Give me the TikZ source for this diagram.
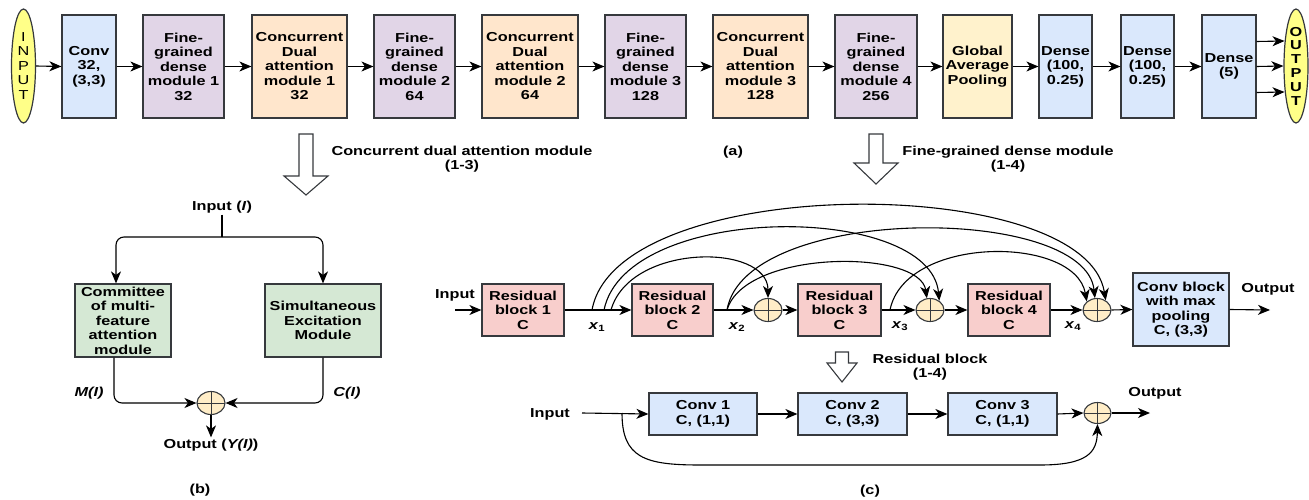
\documentclass[tikz,border=0pt]{standalone}
\usepackage{fontspec}
\setmainfont{Liberation Sans}[FakeStretch=1.25]
\usetikzlibrary{arrows.meta,shapes.geometric,calc}

\definecolor{edge}{HTML}{36393D}
\definecolor{bluef}{HTML}{DAE8FC}
\definecolor{purplef}{HTML}{E1D5E7}
\definecolor{orangef}{HTML}{FFE6CC}
\definecolor{yellowf}{HTML}{FFF2CC}
\definecolor{greenf}{HTML}{D5E8D4}
\definecolor{redf}{HTML}{F8CECC}
\definecolor{termf}{HTML}{FFFF88}
\definecolor{sumf}{HTML}{FFEDC7}

\newcommand{\xsub}[1]{\textit{x}\textsubscript{#1}}

\begin{document}
\begin{tikzpicture}[x=1pt,y=-1pt,
  font=\fontsize{13}{14.5}\selectfont\bfseries,
  line width=1.1pt,
  arr/.style={-{Stealth[length=12pt,width=10pt,inset=3.5pt]}, line width=1.1pt},
  blk/.style={draw=edge, line width=1.2pt, inner sep=1pt, align=center},
  toprow/.style={blk, minimum height=103},
  term/.style={ellipse, draw=edge, line width=1.2pt, fill=termf, inner sep=0pt,
               minimum width=24, minimum height=114, align=center},
  sumnode/.style={ellipse, draw=edge, line width=1.1pt, fill=sumf, inner sep=0pt,
               minimum width=28, minimum height=23,
               path picture={\draw[line width=1pt]
                 (path picture bounding box.north) -- (path picture bounding box.south)
                 (path picture bounding box.west) -- (path picture bounding box.east);}},
  lbl/.style={inner sep=1pt, align=center},
  hollow/.style={draw=edge, line width=1.1pt, fill=white, line join=miter}
]
\useasboundingbox (0,0) rectangle (1309,500);

% ---------------- (a) main pipeline ----------------
\node[term, font=\fontsize{13}{14.5}\selectfont\mdseries] (in) at (23.5,66) {I\\N\\P\\U\\T};
\node[toprow, fill=bluef,   minimum width=54] (conv) at (89,66.5)    {Conv\\32,\\(3,3)};
\node[toprow, fill=purplef, minimum width=81] (f1)   at (183.5,66.5) {Fine-\\grained\\dense\\module 1\\32};
\node[toprow, fill=orangef, minimum width=95] (c1)   at (299.5,66.5) {Concurrent\\Dual\\attention\\module 1\\32};
\node[toprow, fill=purplef, minimum width=81] (f2)   at (414.5,66.5) {Fine-\\grained\\dense\\module 2\\64};
\node[toprow, fill=orangef, minimum width=96] (c2)   at (530,66.5)   {Concurrent\\Dual\\attention\\module 2\\64};
\node[toprow, fill=purplef, minimum width=81] (f3)   at (645.5,66.5) {Fine-\\grained\\dense\\module 3\\128};
\node[toprow, fill=orangef, minimum width=95] (c3)   at (760.5,66.5) {Concurrent\\Dual\\attention\\module 3\\128};
\node[toprow, fill=purplef, minimum width=82] (f4)   at (876,66.5)   {Fine-\\grained\\dense\\module 4\\256};
\node[toprow, fill=yellowf, minimum width=69] (gap)  at (977.5,66.5) {Global\\Average\\Pooling};
\node[toprow, fill=bluef,   minimum width=53] (d1)   at (1065.5,66.5){Dense\\(100,\\0.25)};
\node[toprow, fill=bluef,   minimum width=53] (d2)   at (1147.5,66.5){Dense\\(100,\\0.25)};
\node[toprow, fill=bluef,   minimum width=54] (d3)   at (1229,66.5)  {Dense\\(5)};
\node[term, font=\fontsize{13}{13.8}\selectfont\bfseries] (out) at (1296,66) {O\\U\\T\\P\\U\\T};

\foreach \a/\b in {in/conv, conv/f1, f1/c1, c1/f2, f2/c2, c2/f3, f3/c3, c3/f4, f4/gap, gap/d1, d1/d2, d2/d3}
  \draw[arr] (\a.east) -- (\b.west);
\draw[arr] ($(d3.east)+(0,-25)$) -- ($(out.center)+(-11.5,-25)$);
\draw[arr] (d3.east) -- (out.west);
\draw[arr] ($(d3.east)+(0,26)$) -- ($(out.center)+(-11.5,26)$);

% section captions and expansion arrows
\draw[hollow] (299,134) -- (313,134) -- (313,176) -- (328,176) -- (306,195) -- (284,176) -- (299,176) -- cycle;
\node[lbl] (capcda) at (462,159) {Concurrent dual attention module\\(1-3)};
\node[lbl] (capa) at (733,152) {(a)};
\draw[hollow] (869,134) -- (883,134) -- (883,163) -- (898,163) -- (876,184) -- (854,163) -- (869,163) -- cycle;
\node[lbl] (capfg) at (1008,159) {Fine-grained dense module\\(1-4)};

% ---------------- (b) concurrent dual attention module ----------------
\node[lbl] (inb) at (222,207) {Input (\textit{I})};
\coordinate (splitb) at (222,237);
\node[blk, fill=greenf, minimum width=96, minimum height=73] (cm) at (123,320.5)
  {Committee\\of multi-\\feature\\attention\\module};
\node[blk, fill=greenf, minimum width=116, minimum height=73] (se) at (323,320.5)
  {Simultaneous\\Excitation\\Module};
\node[sumnode] (addb) at (211,403) {};
\node[lbl] (outb) at (211,445) {Output (\textit{Y(I)})};
\node[lbl] (mi) at (89,393) {\textit{M(I)}};
\node[lbl] (ci) at (347,393) {\textit{C(I)}};
\node[lbl] (capb) at (200,490) {(b)};

\draw (inb.south) -- (splitb);
\draw[arr, rounded corners=8] (splitb) -| ($(cm.north)+(-7,0)$);
\draw[arr, rounded corners=8] (splitb) -| (se.north);
\draw[arr, rounded corners=8] ($(cm.south)+(-9,0)$) |- (addb.west);
\draw[arr, rounded corners=8] (se.south) |- (addb.east);
\draw[arr] (addb.south) -- (outb.north);

% ---------------- (c) fine-grained dense module ----------------
\node[lbl] (inc) at (455,295) {Input};
\coordinate (cin) at (455,310);
\node[blk, fill=redf, minimum width=82, minimum height=52] (rb1) at (523,310)   {Residual\\block 1\\C};
\node[blk, fill=redf, minimum width=81, minimum height=52] (rb2) at (672.5,310) {Residual\\block 2\\C};
\node[blk, fill=redf, minimum width=83, minimum height=52] (rb3) at (839.5,310) {Residual\\block 3\\C};
\node[blk, fill=redf, minimum width=82, minimum height=52] (rb4) at (1009,310)  {Residual\\block 4\\C};
\node[sumnode] (a1) at (768,310) {};
\node[sumnode] (a2) at (930,310) {};
\node[sumnode] (a3) at (1097,310) {};
\node[blk, fill=bluef, minimum width=96, minimum height=73] (cb) at (1181,309.5)
  {Conv block\\with max\\pooling\\C, (3,3)};
\node[lbl] (outc) at (1268,289) {Output};
\coordinate (cout) at (1270,310);

\node[lbl] (x1) at (597,327) {\xsub{1}};
\node[lbl] (x2) at (737,327) {\xsub{2}};
\node[lbl] (x3) at (900,326) {\xsub{3}};
\node[lbl] (x4) at (1073,326) {\xsub{4}};

\draw[arr] (cin) -- (rb1.west);
\draw[arr] (rb1.east) -- (rb2.west);
\draw[arr] (rb2.east) -- (a1.west);
\draw[arr] (a1.east) -- (rb3.west);
\draw[arr] (rb3.east) -- (a2.west);
\draw[arr] (a2.east) -- (rb4.west);
\draw[arr] (rb4.east) -- (a3.west);
\draw[arr] (a3.east) -- (cb.west);
\draw[arr] (cb.east) -- (cout);

% dense skip connections
\coordinate (s1a) at (592,310);
\coordinate (s1b) at (604,310);
\coordinate (s1c) at (611,310);
\coordinate (s2)  at (727,310);
\coordinate (s3)  at (890,310);
\draw[arr] (s1a) .. controls (617,172) and (1085,172) .. (a3.48);
\draw[arr] (s1b) .. controls (626,202) and (930,202) .. (a2.45);
\draw[arr] (s1c) .. controls (630,243) and (768,243) .. (a1.north);
\draw[arr] (s2)  .. controls (745,204) and (1085,204) .. (a3.100);
\draw[arr] (s2)  .. controls (745,249) and (920,249) .. (a2.105);
\draw[arr] (s3)  .. controls (905,235) and (1075,235) .. (a3.140);

% ---------------- residual block ----------------
\draw[hollow] (835.5,352) -- (848.5,352) -- (848.5,363) -- (857,363) -- (842,382) -- (827,363) -- (835.5,363) -- cycle;
\node[lbl] (caprb) at (930,367) {Residual block\\(1-4)};

\node[lbl] (inr) at (550,414) {Input};
\coordinate (rin) at (582,413);
\coordinate (rsplit) at (622,413);
\node[blk, fill=bluef, minimum width=108, minimum height=42] (cv1) at (703,414)    {Conv 1\\C, (1,1)};
\node[blk, fill=bluef, minimum width=109, minimum height=42] (cv2) at (852.5,414)  {Conv 2\\C, (3,3)};
\node[blk, fill=bluef, minimum width=109, minimum height=42] (cv3) at (1002.5,414) {Conv 3\\C, (1,1)};
\node[sumnode, minimum width=27, minimum height=21] (ar) at (1097.5,413) {};
\node[lbl] (outr) at (1155,393) {Output};
\coordinate (rout) at (1150,413);

\draw[arr] (rin) -- (cv1.west);
\draw[arr] (cv1.east) -- (cv2.west);
\draw[arr] (cv2.east) -- (cv3.west);
\draw[arr] (cv3.east) -- (ar.west);
\draw[arr] (ar.east) -- (rout);
\draw[arr] (rsplit) .. controls (622,458) and (645,465) .. (700,465)
  -- (1040,465) .. controls (1088,465) and (1097,452) .. (ar.south);

\node[lbl] (capc) at (870,491) {(c)};
\end{tikzpicture}
\end{document}
